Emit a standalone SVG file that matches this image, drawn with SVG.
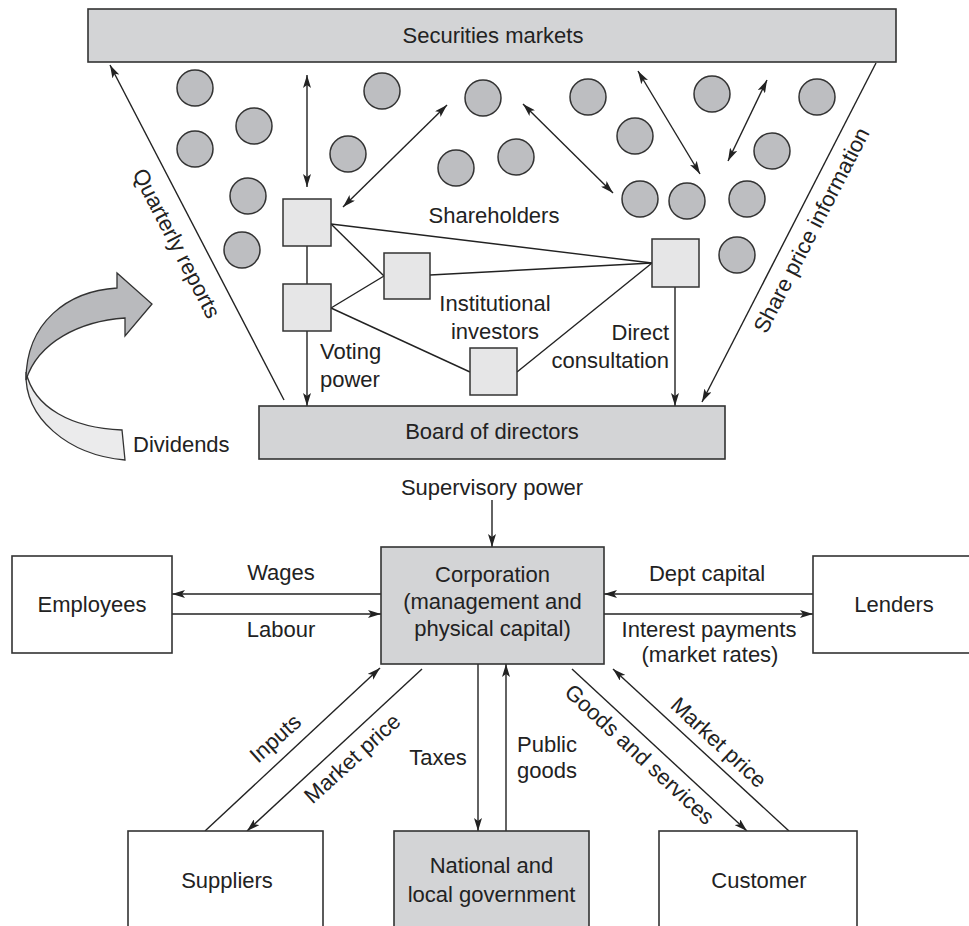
<svg xmlns="http://www.w3.org/2000/svg" width="969" height="926" viewBox="0 0 969 926">
<style>
text{font-family:"Liberation Sans",Arial,sans-serif;font-size:22px;fill:#222}
.c{text-anchor:middle}
.e{text-anchor:end}
.box{fill:#d3d4d6;stroke:#333;stroke-width:1.6}
.wbox{fill:#fff;stroke:#333;stroke-width:1.6}
.sq{fill:#e6e6e7;stroke:#333;stroke-width:1.5}
.cir{fill:#bdbec1;stroke:#333;stroke-width:1.5}
.ln{stroke:#222;stroke-width:1.4;fill:none}
.a{marker-end:url(#ah)}
.d{marker-start:url(#ah);marker-end:url(#ah)}
</style>
<defs>
<marker id="ah" viewBox="0 0 13 8" refX="13" refY="4" markerWidth="13" markerHeight="8" orient="auto-start-reverse" markerUnits="userSpaceOnUse">
<path d="M0,0 L13,4 L0,8 L3,4 Z" fill="#222"/>
</marker>
</defs>
<rect width="969" height="926" fill="#fff"/>

<g id="securities-markets">
<rect class="box" x="88" y="9" width="808" height="53"/>
<text class="c" x="493" y="43">Securities markets</text>
</g>

<g id="shareholders-circles">
<circle class="cir" cx="195" cy="88" r="18"/>
<circle class="cir" cx="254" cy="126" r="18"/>
<circle class="cir" cx="195" cy="149" r="18"/>
<circle class="cir" cx="248" cy="196" r="18"/>
<circle class="cir" cx="242" cy="250" r="18"/>
<circle class="cir" cx="382" cy="91" r="18"/>
<circle class="cir" cx="348" cy="154" r="18"/>
<circle class="cir" cx="483" cy="98" r="18"/>
<circle class="cir" cx="456" cy="168" r="18"/>
<circle class="cir" cx="516" cy="157" r="18"/>
<circle class="cir" cx="588" cy="97" r="18"/>
<circle class="cir" cx="635" cy="136" r="18"/>
<circle class="cir" cx="712" cy="94" r="18"/>
<circle class="cir" cx="817" cy="97" r="18"/>
<circle class="cir" cx="772" cy="151" r="18"/>
<circle class="cir" cx="640" cy="199" r="18"/>
<circle class="cir" cx="687" cy="201" r="18"/>
<circle class="cir" cx="747" cy="199" r="18"/>
<circle class="cir" cx="737" cy="255" r="18"/>
</g>

<g id="connectors">
<line class="ln a" x1="284" y1="400" x2="110" y2="65"/>
<line class="ln a" x1="876" y1="63" x2="702" y2="402"/>
<line class="ln d" x1="307" y1="75" x2="307" y2="187"/>
<line class="ln d" x1="447" y1="105" x2="343" y2="207"/>
<line class="ln d" x1="523" y1="104" x2="613" y2="193"/>
<line class="ln d" x1="638" y1="71" x2="700" y2="174"/>
<line class="ln d" x1="767" y1="80" x2="728" y2="161"/>
<line class="ln" x1="307" y1="246" x2="307" y2="284"/>
<line class="ln a" x1="307" y1="331" x2="307" y2="406"/>
<line class="ln a" x1="675" y1="287" x2="675" y2="406"/>
<line class="ln" x1="331" y1="224" x2="652" y2="263"/>
<line class="ln" x1="331" y1="224" x2="384" y2="276"/>
<line class="ln" x1="331" y1="308" x2="384" y2="276"/>
<line class="ln" x1="331" y1="308" x2="470" y2="372"/>
<line class="ln" x1="430" y1="275" x2="652" y2="263"/>
<line class="ln" x1="517" y1="372" x2="652" y2="263"/>
<line class="ln a" x1="492" y1="500" x2="492" y2="547"/>
<line class="ln a" x1="381" y1="594" x2="172" y2="594"/>
<line class="ln a" x1="172" y1="614" x2="381" y2="614"/>
<line class="ln a" x1="813" y1="594" x2="604" y2="594"/>
<line class="ln a" x1="604" y1="614" x2="813" y2="614"/>
<line class="ln a" x1="478" y1="664" x2="478" y2="831"/>
<line class="ln a" x1="506" y1="831" x2="506" y2="664"/>
<line class="ln a" x1="205" y1="831" x2="380" y2="668"/>
<line class="ln a" x1="422" y1="669" x2="247" y2="831"/>
<line class="ln a" x1="572" y1="669" x2="747" y2="831"/>
<line class="ln a" x1="789" y1="831" x2="613" y2="669"/>
</g>

<g id="connector-labels">
<text class="c" transform="translate(177,243) rotate(62.6)" y="8">Quarterly reports</text>
<text class="c" transform="translate(811,230) rotate(-62.8)" y="8">Share price information</text>
<text class="c" x="494" y="223">Shareholders</text>
<text class="c" x="495" y="311">Institutional</text>
<text class="c" x="495" y="339">investors</text>
<text class="e" x="669" y="340">Direct</text>
<text class="e" x="669" y="368">consultation</text>
<text x="320" y="359">Voting</text>
<text x="320" y="387">power</text>
<text x="133" y="452">Dividends</text>
<text class="c" x="492" y="495">Supervisory power</text>
<text class="c" x="281" y="580">Wages</text>
<text class="c" x="281" y="637">Labour</text>
<text class="c" x="707" y="581">Dept capital</text>
<text class="c" x="709" y="637">Interest payments</text>
<text class="c" x="710" y="662">(market rates)</text>
<text class="c" x="438" y="765">Taxes</text>
<text x="517" y="752">Public</text>
<text x="517" y="778">goods</text>
<text class="c" transform="translate(275,738) rotate(-42)" y="8">Inputs</text>
<text class="c" transform="translate(352,758) rotate(-42.3)" y="8">Market price</text>
<text class="c" transform="translate(640,754) rotate(42.8)" y="8">Goods and services</text>
<text class="c" transform="translate(719,742) rotate(42.8)" y="8">Market price</text>
</g>

<g id="dividends-arrow">
<path d="M26,372 C24,418 68,455 125,460 L122,430 C72,428 34,408 26,372 Z" fill="#ebebec" stroke="#333" stroke-width="1.3"/>
<path d="M26,380 C26,322 68,291 117,288 L117,273 L152,304 L125,336 L125,318 C80,321 38,342 26,380 Z" fill="#b9babd" stroke="#333" stroke-width="1.3"/>
</g>

<g id="shareholder-a"><rect class="sq" x="283" y="199" width="48" height="47"/></g>
<g id="shareholder-b"><rect class="sq" x="283" y="284" width="48" height="47"/></g>
<g id="institutional-c"><rect class="sq" x="384" y="253" width="46" height="46"/></g>
<g id="institutional-d"><rect class="sq" x="470" y="348" width="47" height="47"/></g>
<g id="shareholder-e"><rect class="sq" x="652" y="239" width="47" height="48"/></g>

<g id="board-of-directors">
<rect class="box" x="259" y="406" width="466" height="53"/>
<text class="c" x="492" y="439">Board of directors</text>
</g>

<g id="corporation">
<rect class="box" x="381" y="547" width="223" height="117"/>
<text class="c" x="492.5" y="582">Corporation</text>
<text class="c" x="492.5" y="609">(management and</text>
<text class="c" x="492.5" y="636">physical capital)</text>
</g>

<g id="employees">
<rect class="wbox" x="12" y="556" width="160" height="97"/>
<text class="c" x="92" y="612">Employees</text>
</g>

<g id="lenders">
<rect class="wbox" x="813" y="556" width="170" height="97"/>
<text class="c" x="894" y="612">Lenders</text>
</g>

<g id="suppliers">
<rect class="wbox" x="128" y="831" width="195" height="110"/>
<text class="c" x="227" y="888">Suppliers</text>
</g>

<g id="government">
<rect class="box" x="394" y="831" width="195" height="110"/>
<text class="c" x="491.5" y="873">National and</text>
<text class="c" x="491.5" y="902">local government</text>
</g>

<g id="customer">
<rect class="wbox" x="659" y="831" width="198" height="110"/>
<text class="c" x="759" y="888">Customer</text>
</g>
</svg>
